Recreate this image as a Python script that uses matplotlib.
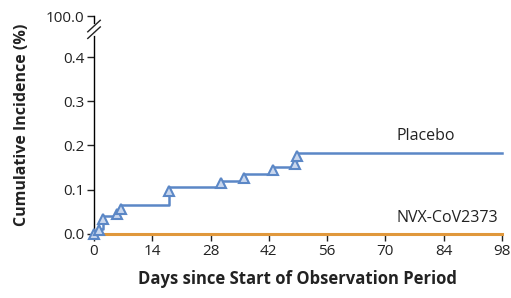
import matplotlib
matplotlib.use("Agg")
import matplotlib.pyplot as plt

plt.rcParams['font.family'] = ['Open Sans', 'DejaVu Sans']

# placebo step curve (day, cumulative incidence %)
placebo_days = [0, 1.2, 2.2, 5.5, 6.4, 18, 30.5, 36, 43, 48.3, 48.8, 98]
placebo_inc = [0, 0.012, 0.040, 0.047, 0.065, 0.105, 0.120, 0.135, 0.152, 0.165, 0.184, 0.184]

# triangle markers on the placebo curve
marker_days = [0, 1.2, 2.2, 5.5, 6.4, 18, 30.5, 36, 43, 48.3, 48.8]
marker_inc = [0, 0.010, 0.034, 0.044, 0.056, 0.098, 0.115, 0.126, 0.145, 0.159, 0.176]

vaccine_days = [0, 98]
vaccine_inc = [0, 0]

x_ticks = [0, 14, 28, 42, 56, 70, 84, 98]
y_ticks = [0.0, 0.1, 0.2, 0.3, 0.4, 0.4925]
y_tick_labels = ['0.0', '0.1', '0.2', '0.3', '0.4', '100.0']

blue = '#5b87c6'
orange = '#e0983c'
ink = '#222222'

fig = plt.figure(figsize=(5.11, 2.98), dpi=100)
ax = fig.add_axes([0.184, 0.215, 0.798, 0.731])

ax.step(placebo_days, placebo_inc, where='post', color=blue, lw=1.8, clip_on=False)
ax.plot(marker_days, marker_inc, ls='none', marker='^', ms=7, mfc='#c9d7ee',
        mec=blue, mew=1.5, clip_on=False, zorder=4)
ax.plot(vaccine_days, vaccine_inc, color=orange, lw=2.2, clip_on=False, zorder=3)

ax.text(72.7, 0.222, 'Placebo', fontsize=11.5, color=ink, va='center')
ax.text(72.7, 0.036, 'NVX-CoV2373', fontsize=11.5, color=ink, va='center')

ax.set_xlim(0, 98)
ax.set_ylim(0, 0.4925)
ax.set_xticks(x_ticks)
ax.set_yticks(y_ticks)
ax.set_yticklabels(y_tick_labels)
ax.tick_params(labelsize=11, length=5, width=1, colors=ink, pad=2)

for s in ['top', 'right']:
    ax.spines[s].set_visible(False)
ax.spines['left'].set_linewidth(1)
ax.spines['bottom'].set_linewidth(1)

# axis break marks
ax.plot([0, 0], [0.452, 0.473], color='white', lw=2, clip_on=False, zorder=5)
for yb in [0.455, 0.470]:
    ax.plot([-1.5, 1.5], [yb - 0.013, yb + 0.013], color=ink, lw=1,
            clip_on=False, zorder=6)

ax.set_xlabel('Days since Start of Observation Period', fontsize=12,
              fontweight='bold', color=ink, labelpad=8)
ax.set_ylabel('Cumulative Incidence (%)', fontsize=11.5, fontweight='bold',
              color=ink, labelpad=11)

fig.savefig('out.png', dpi=100)
